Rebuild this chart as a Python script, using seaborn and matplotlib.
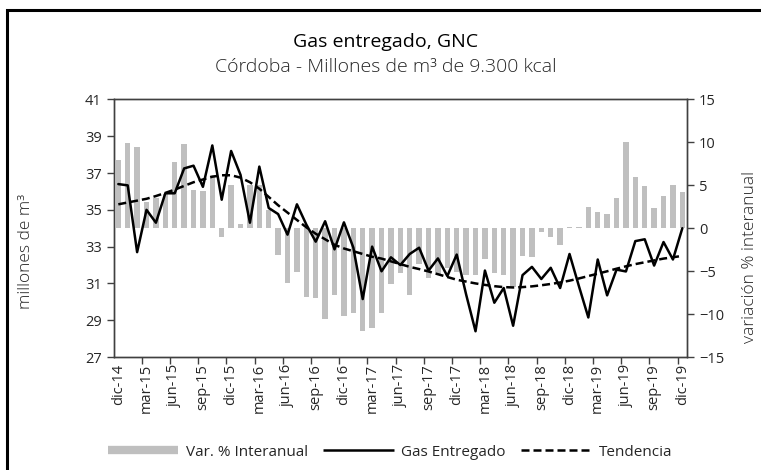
import matplotlib
matplotlib.use("Agg")
import matplotlib.pyplot as plt
from matplotlib.lines import Line2D
from matplotlib.patches import Rectangle
import seaborn as sns
import pandas as pd
import numpy as np

# Gas entregado a GNC en Córdoba, millones de m3 (dic-14 .. dic-19)
gas = [36.4, 36.33, 32.7, 35.0, 34.3, 35.9, 35.9, 37.25, 37.4, 36.25,
       38.5, 35.55, 38.2, 36.9, 34.3, 37.35, 35.1, 34.77, 33.65, 35.3,
       34.2, 33.27, 34.38, 32.85, 34.32, 32.95, 30.15, 33.0, 31.66, 32.42,
       32.0, 32.6, 32.94, 31.7, 32.36, 31.4, 32.57, 30.4, 28.4, 31.7,
       29.95, 30.75, 28.7, 31.45, 31.9, 31.24, 31.85, 30.75, 32.6, 30.85,
       29.15, 32.3, 30.35, 31.75, 31.65, 33.3, 33.4, 31.97, 33.25, 32.3,
       34.0]

# Variación % interanual
var_pct = [7.9, 9.9, 9.45, 3.0, 3.5, 4.0, 7.7, 9.76, 4.4, 4.3,
           6.2, -1.0, 5.06, 0.45, 5.06, 5.0, 2.1, -3.1, -6.4, -5.1,
           -8.0, -8.1, -10.6, -7.8, -10.2, -9.85, -12.0, -11.6, -9.85, -6.5,
           -5.2, -7.8, -4.2, -5.8, -5.5, -4.6, -5.1, -5.5, -5.4, -3.6,
           -5.25, -5.45, -6.9, -3.25, -3.35, -0.4, -1.0, -2.0, 0.2, 0.1,
           2.5, 1.9, 1.6, 3.5, 10.0, 5.96, 4.9, 2.35, 3.78, 5.03,
           4.25]

# Tendencia
trend = [35.3, 35.4, 35.5, 35.6, 35.75, 35.92, 36.1, 36.3, 36.5, 36.65,
         36.8, 36.88, 36.88, 36.75, 36.5, 36.15, 35.7, 35.25, 34.85, 34.45,
         34.05, 33.7, 33.4, 33.1, 32.9, 32.75, 32.6, 32.45, 32.35, 32.2,
         32.05, 31.9, 31.78, 31.65, 31.5, 31.35, 31.2, 31.1, 31.0, 30.92,
         30.85, 30.8, 30.78, 30.8, 30.84, 30.9, 30.97, 31.05, 31.15, 31.27,
         31.4, 31.53, 31.66, 31.8, 31.93, 32.05, 32.15, 32.25, 32.35, 32.42,
         32.5]

tick_labels = ["dic-14", "mar-15", "jun-15", "sep-15", "dic-15", "mar-16",
               "jun-16", "sep-16", "dic-16", "mar-17", "jun-17", "sep-17",
               "dic-17", "mar-18", "jun-18", "sep-18", "dic-18", "mar-19",
               "jun-19", "sep-19", "dic-19"]

sns.set_style("ticks")
plt.rcParams["font.family"] = ["Open Sans", "DejaVu Sans"]

TXT = "#262626"
BAR = "#bfbfbf"
DASH = (0, (3.2, 1.6))

fig = plt.figure(figsize=(7.61, 4.70), dpi=100)
ax = fig.add_axes([0.1493, 0.2404, 0.7535, 0.548])
ax2 = ax.twinx()

idx = np.arange(len(gas))
df = pd.DataFrame({"mes": idx, "gas": gas, "var": var_pct, "trend": trend})

sns.barplot(data=df, x="mes", y="var", ax=ax2, color=BAR, width=0.56,
            saturation=1, native_scale=True, linewidth=0)
sns.lineplot(data=df, x="mes", y="gas", ax=ax, color="black", lw=1.8)
sns.lineplot(data=df, x="mes", y="trend", ax=ax, color="black", lw=1.8,
             linestyle=DASH)

# lines above the bars
ax.set_zorder(ax2.get_zorder() + 1)
ax.patch.set_visible(False)

ax.set_xlim(-0.5, len(gas) - 0.5)
ax.set_ylim(27, 41)
ax.set_yticks(range(27, 42, 2))
ax2.set_ylim(-15, 15)
ax2.set_yticks(range(-15, 16, 5))

ax.set_xticks(idx[::3])
ax.set_xticklabels(tick_labels, rotation=90)
ax.set_xticks(np.arange(2.5, len(gas) - 1, 3), minor=True)
ax.tick_params(axis="x", which="major", length=0, pad=5, labelsize=10.5,
               labelcolor=TXT)
ax.tick_params(axis="x", which="minor", length=5, width=1, color="#404040",
               direction="out")
ax.tick_params(axis="y", length=5, width=1, color="#404040", labelsize=10.5,
               labelcolor=TXT, direction="out")
ax2.tick_params(axis="y", length=5, width=1, color="#404040", labelsize=10.5,
                labelcolor=TXT, direction="out")

for a in (ax, ax2):
    for s in a.spines.values():
        s.set_visible(True)
        s.set_color("#404040")
        s.set_linewidth(1)

ax.set_xlabel("")
ax2.set_xlabel("")
ax.set_ylabel("millones de m³", fontsize=12.5, color=TXT, fontweight="light")
ax2.set_ylabel("variación % interanual", fontsize=12.5, color=TXT,
               fontweight="light")
ax.yaxis.set_label_coords(-0.138, 0.41)
ax2.yaxis.set_label_coords(1.095, 0.39)

fig.text(0.507, 0.91, "Gas entregado, GNC", ha="center", va="center",
         fontsize=14, color="black")
fig.text(0.507, 0.857, "Córdoba - Millones de m³ de 9.300 kcal", ha="center",
         va="center", fontsize=14, color=TXT, fontweight="light")

handles = [Line2D([0], [0], color=BAR, lw=6, solid_capstyle="butt"),
           Line2D([0], [0], color="black", lw=1.8, solid_capstyle="butt"),
           Line2D([0], [0], color="black", lw=1.8, linestyle=DASH)]
fig.legend(handles, ["Var. % Interanual", "Gas Entregado", "Tendencia"],
           loc="center", bbox_to_anchor=(0.513, 0.038), ncol=3,
           frameon=False, handlelength=4.6, columnspacing=1.0,
           handletextpad=0.5, fontsize=11, labelcolor=TXT)

fig.add_artist(Rectangle((7 / 761, -0.1), 1.2, 1.1 - 10 / 470,
                         transform=fig.transFigure, fill=False, lw=2.2,
                         edgecolor="black", clip_on=False))

fig.savefig("out.png", dpi=100)
